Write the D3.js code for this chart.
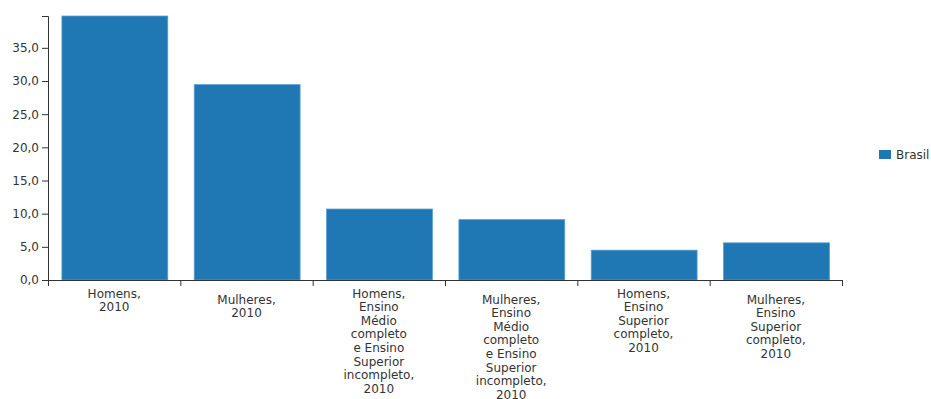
<!DOCTYPE html>
<html>
<head>
<meta charset="utf-8">
<script src="https://cdn.jsdelivr.net/npm/d3@7"></script>
<style>
  body { margin: 0; background: #fff; }
  svg text { font-family: "DejaVu Sans", Verdana, sans-serif; fill: #333; }
</style>
</head>
<body>
<svg width="931" height="399"></svg>
<script>
// categorias (quebras de linha como no rótulo original)
const categories = [
    "Homens,\n2010",
    "Mulheres,\n2010",
    "Homens,\nEnsino\nMédio\ncompleto\ne Ensino\nSuperior\nincompleto,\n2010",
    "Mulheres,\nEnsino\nMédio\ncompleto\ne Ensino\nSuperior\nincompleto,\n2010",
    "Homens,\nEnsino\nSuperior\ncompleto,\n2010",
    "Mulheres,\nEnsino\nSuperior\ncompleto,\n2010"
];
const brasil = [39.8, 29.45, 10.7, 9.1, 4.5, 5.6];
const seriesName = "Brasil";

const margin = { top: 16, right: 89, bottom: 119, left: 48 },
      width = 931 - margin.left - margin.right,
      height = 399 - margin.top - margin.bottom;

const locale = d3.formatLocale({ decimal: ",", thousands: ".", grouping: [3], currency: ["R$", ""] });
const fmt = locale.format(".1f");

const svg = d3.select("svg")
    .append("g")
    .attr("transform", `translate(${margin.left},${margin.top})`);

const x = d3.scaleBand()
    .domain(d3.range(categories.length))
    .range([0, width])
    .padding(0);

// escala auxiliar para os ticks nas bordas das faixas
const xEdge = d3.scaleLinear()
    .domain([0, categories.length])
    .range([0, width]);

const y = d3.scaleLinear()
    .domain([0, d3.max(brasil)])
    .range([height, 0]);

const color = "#1f77b4";

// barras
svg.append("g")
    .selectAll("rect")
    .data(brasil)
    .enter().append("rect")
    .attr("x", (d, i) => x(i) + x.bandwidth() * 0.105)
    .attr("y", d => y(d))
    .attr("width", x.bandwidth() * 0.8)
    .attr("height", d => y(0) - y(d))
    .attr("fill", color)
    .attr("stroke", "#5a9fd2")
    .attr("stroke-width", 0.8);

// eixo X
const xAxis = svg.append("g")
    .attr("transform", `translate(0,${height})`)
    .call(d3.axisBottom(xEdge).ticks(categories.length).tickFormat(""));
xAxis.selectAll("path, line").attr("stroke", "#333");

const labels = svg.append("g")
    .attr("transform", `translate(0,${height})`)
    .selectAll("text")
    .data(categories)
    .enter().append("text")
    .attr("text-anchor", "middle")
    .attr("transform", (d, i) => `translate(${x(i) + x.bandwidth() / 2},${i % 2 ? 15 : 9})`)
    .style("font-size", "12px");

labels.each(function (d) {
    const t = d3.select(this);
    d.split("\n").forEach((line, k) => {
        t.append("tspan")
            .attr("x", 0)
            .attr("y", 8.5 + k * 13.6)
            .text(line);
    });
});

// eixo Y
const yAxis = svg.append("g")
    .call(d3.axisLeft(y).ticks(8).tickFormat(fmt));
yAxis.selectAll("path, line").attr("stroke", "#333");
yAxis.selectAll("text").style("font-size", "12px").attr("fill", "#333");

// legenda
const legend = d3.select("svg").append("g")
    .attr("transform", "translate(879,150)");

legend.append("rect")
    .attr("width", 12)
    .attr("height", 9)
    .attr("fill", color);

legend.append("text")
    .attr("x", 17)
    .attr("y", 9)
    .style("font-size", "12px")
    .text(seriesName);
</script>
</body>
</html>
